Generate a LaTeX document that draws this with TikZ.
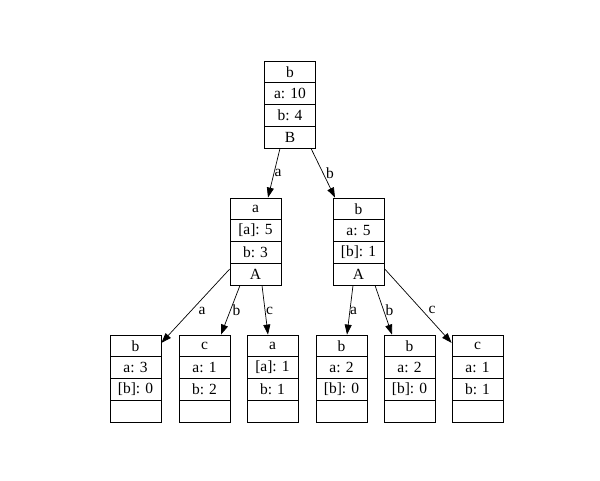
\documentclass[tikz,border=0pt]{standalone}
\usepackage{fontspec}
\setmainfont{Liberation Serif}
\usetikzlibrary{arrows.meta}

% A record of four stacked cells: name, centre x, top y, cell texts
\newcommand\recordbox[7]{%
  \node[cell] (#1-1) at (#2,{480-#3-10.875}) {#4};
  \node[cell] (#1-2) at (#2,{480-#3-32.625}) {#5};
  \node[cell] (#1-3) at (#2,{480-#3-54.375}) {#6};
  \node[cell] (#1-4) at (#2,{480-#3-76.125}) {#7};
}

\begin{document}
\begin{tikzpicture}[x=1pt,y=1pt,
  cell/.style={draw, line width=0.8pt, minimum width=51pt, minimum height=21.75pt,
    inner sep=0pt, anchor=center, font=\fontsize{15.5}{17}\selectfont},
  edge/.style={line width=0.7pt, -{Triangle[length=10pt,width=7pt]}},
  lbl/.style={inner sep=0pt, font=\fontsize{15.5}{17}\selectfont}]
\useasboundingbox (0,0) rectangle (600,480);

% tree records
\recordbox{r}{290}{61}{b}{a: 10}{b: 4}{B}
\recordbox{ml}{255.5}{198}{a}{[a]: 5}{b: 3}{A}
\recordbox{mr}{358.5}{198}{b}{a: 5}{[b]: 1}{A}
\recordbox{la}{135.5}{335}{b}{a: 3}{[b]: 0}{}
\recordbox{lb}{204.5}{335}{c}{a: 1}{b: 2}{}
\recordbox{lc}{272.5}{335}{a}{[a]: 1}{b: 1}{}
\recordbox{ld}{341.5}{335}{b}{a: 2}{[b]: 0}{}
\recordbox{le}{409.5}{335}{b}{a: 2}{[b]: 0}{}
\recordbox{lf}{477.5}{335}{c}{a: 1}{b: 1}{}

% transitions
\draw[edge] ([xshift=-10pt]r-4.south) -- ([xshift=12.5pt]ml-1.north);
\draw[edge] ([xshift=21pt]r-4.south) -- ([xshift=-23.5pt]mr-1.north);
\draw[edge] ([yshift=5pt]ml-4.west) -- ([yshift=3pt]la-1.east);
\draw[edge] ([xshift=-15.5pt]ml-4.south) -- ([xshift=16.5pt]lb-1.north);
\draw[edge] ([xshift=6.5pt]ml-4.south) -- ([xshift=-4.5pt]lc-1.north);
\draw[edge] ([xshift=-5.5pt]mr-4.south) -- ([xshift=5.5pt]ld-1.north);
\draw[edge] ([xshift=16.5pt]mr-4.south) -- ([xshift=-17.5pt]le-1.north);
\draw[edge] ([yshift=5.5pt]mr-4.east) -- ([yshift=3pt]lf-1.west);

% transition labels
\node[lbl] (t1) at (278,{480-173}) {a};
\node[lbl] (t2) at (330,{480-173}) {b};
\node[lbl] (t3) at (202,{480-310.5}) {a};
\node[lbl] (t4) at (236.5,{480-310}) {b};
\node[lbl] (t5) at (269.5,{480-310.5}) {c};
\node[lbl] (t6) at (353.5,{480-310.5}) {a};
\node[lbl] (t7) at (389.5,{480-310}) {b};
\node[lbl] (t8) at (432,{480-310}) {c};
\end{tikzpicture}
\end{document}
